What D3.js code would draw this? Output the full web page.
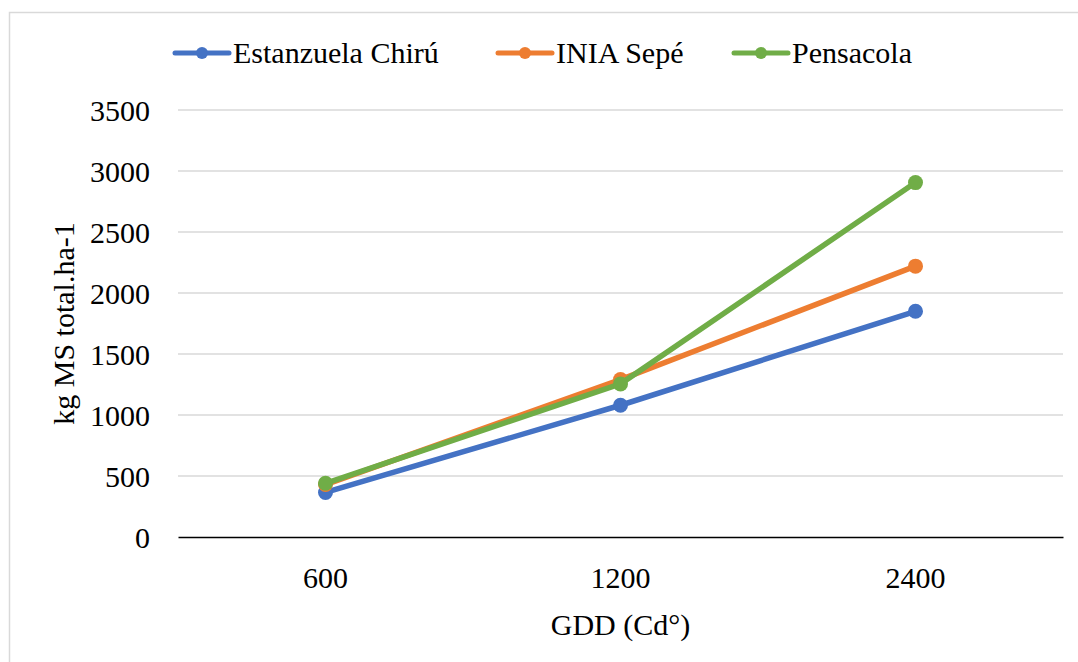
<!DOCTYPE html>
<html>
<head>
<meta charset="utf-8">
<script src="https://cdn.jsdelivr.net/npm/d3@7"></script>
<style>
  body { margin: 0; background: #fff; }
</style>
</head>
<body>
<div id="container"></div>
<script>
/* ---------- DATA ---------- */
const categories = ["600", "1200", "2400"];
const seriesNames = ["Estanzuela Chirú", "INIA Sepé", "Pensacola"];
const estanzuela = [365, 1080, 1850];
const iniaSepe = [430, 1290, 2220];
const pensacola = [440, 1255, 2905];
const yTicks = [0, 500, 1000, 1500, 2000, 2500, 3000, 3500];
const colors = ["#4472C4", "#ED7D31", "#70AD47"];

/* ---------- CONSTANTS ---------- */
const width = 1078,
  height = 662,
  margin = { top: 110, bottom: 125, left: 178, right: 15 },
  fontSize = 30,
  font = "'Liberation Serif', 'Times New Roman', Times, serif";

const series = [estanzuela, iniaSepe, pensacola].map((values, i) => ({
  name: seriesNames[i],
  color: colors[i],
  values: values.map((v, j) => ({ cat: categories[j], value: v }))
}));

const svg = d3.select("#container")
  .append("svg")
  .attr("width", width)
  .attr("height", height)
  .style("font-family", font);

// outer chart frame
svg.append("rect")
  .attr("x", 9.5)
  .attr("y", 12.5)
  .attr("width", width + 10)
  .attr("height", height + 10)
  .attr("fill", "none")
  .attr("stroke", "#d9d9d9")
  .attr("stroke-width", 1.5);

/* ---------- SCALES ---------- */
const xScale = d3.scaleBand()
  .domain(categories)
  .range([margin.left, width - margin.right]);

const yScale = d3.scaleLinear()
  .domain([0, 3500])
  .range([height - margin.bottom, margin.top]);

/* ---------- GRID + AXES ---------- */
svg.append("g")
  .selectAll("line")
  .data(yTicks.filter(d => d > 0))
  .join("line")
  .attr("x1", margin.left)
  .attr("x2", width - margin.right)
  .attr("y1", d => yScale(d))
  .attr("y2", d => yScale(d))
  .attr("stroke", "#d9d9d9")
  .attr("stroke-width", 1.5);

const yAxis = d3.axisLeft(yScale)
  .tickValues(yTicks)
  .tickFormat(d3.format("d"))
  .tickSize(0)
  .tickPadding(28);
svg.append("g")
  .attr("transform", `translate(${margin.left},0)`)
  .call(yAxis)
  .attr("font-family", font)
  .call(g => g.select(".domain").remove())
  .selectAll("text")
  .style("font-family", font)
  .attr("fill", "#000")
  .attr("font-size", fontSize)
  .attr("dy", "0.34em");

const xAxis = d3.axisBottom(xScale).tickSize(0).tickPadding(30);
svg.append("g")
  .attr("transform", `translate(0,${yScale(0)})`)
  .call(xAxis)
  .attr("font-family", font)
  .call(g => g.select(".domain").attr("stroke", "#000").attr("stroke-width", 1.5))
  .selectAll("text")
  .style("font-family", font)
  .attr("fill", "#000")
  .attr("font-size", fontSize);

// axis titles
svg.append("text")
  .attr("x", xScale("1200") + xScale.bandwidth() / 2)
  .attr("y", 635)
  .attr("text-anchor", "middle")
  .attr("font-size", fontSize)
  .style("font-family", font)
  .text("GDD (Cd°)");

svg.append("text")
  .attr("transform", `translate(74,${yScale(1750)}) rotate(-90)`)
  .attr("text-anchor", "middle")
  .attr("font-size", fontSize)
  .style("font-family", font)
  .text("kg MS total.ha-1");

/* ---------- LINES ---------- */
const line = d3.line()
  .x(d => xScale(d.cat) + xScale.bandwidth() / 2)
  .y(d => yScale(d.value));

const groups = svg.append("g")
  .selectAll("g.series")
  .data(series)
  .join("g")
  .attr("class", "series");

groups.append("path")
  .attr("d", d => line(d.values))
  .attr("fill", "none")
  .attr("stroke", d => d.color)
  .attr("stroke-width", 5.5)
  .attr("stroke-linecap", "round")
  .attr("stroke-linejoin", "round");

groups.selectAll("circle")
  .data(d => d.values.map(v => ({ ...v, color: d.color })))
  .join("circle")
  .attr("cx", d => xScale(d.cat) + xScale.bandwidth() / 2)
  .attr("cy", d => yScale(d.value))
  .attr("r", 7.5)
  .attr("fill", d => d.color);

/* ---------- LEGEND ---------- */
const legendX = [175, 498, 734];
const legend = svg.append("g")
  .selectAll("g")
  .data(series)
  .join("g")
  .attr("transform", (d, i) => `translate(${legendX[i]},53)`);

legend.append("line")
  .attr("x1", 0)
  .attr("x2", 54)
  .attr("stroke", d => d.color)
  .attr("stroke-width", 5)
  .attr("stroke-linecap", "round");

legend.append("circle")
  .attr("cx", 27)
  .attr("r", 6)
  .attr("fill", d => d.color);

legend.append("text")
  .attr("x", 58)
  .attr("dy", "0.34em")
  .attr("font-size", fontSize)
  .style("font-family", font)
  .text(d => d.name);
</script>
</body>
</html>
